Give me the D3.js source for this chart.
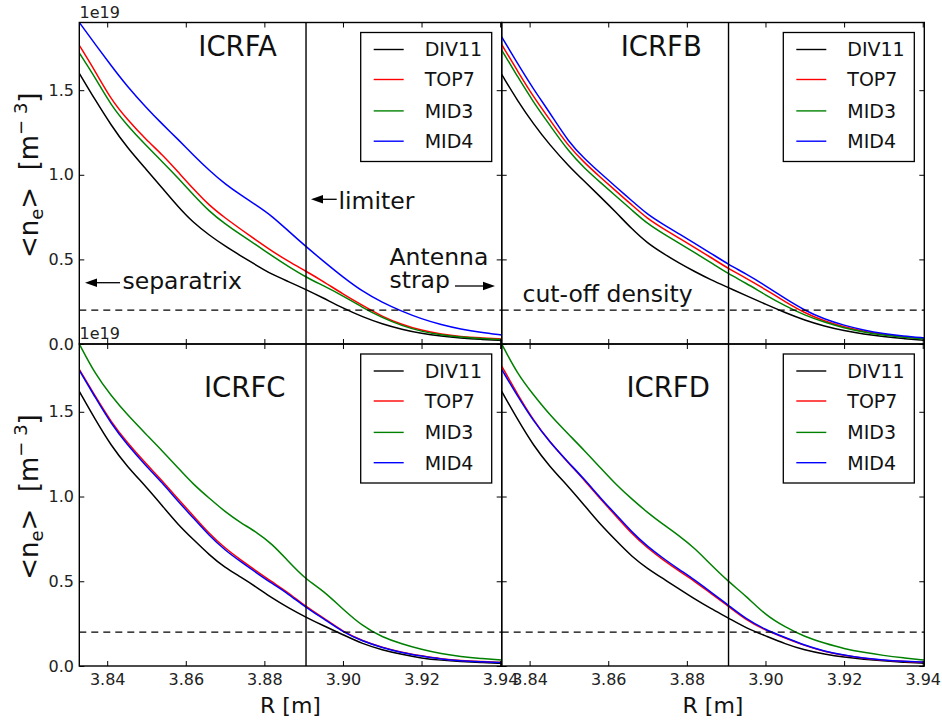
<!DOCTYPE html>
<html><head><meta charset="utf-8">
<script src="https://cdn.jsdelivr.net/npm/d3@7"></script>
<style>body{margin:0;background:#fff}svg{display:block;font-family:"DejaVu Sans",sans-serif}</style>
</head><body><svg id="c" width="942" height="725"></svg>
<script>
// ---------- data ----------
const R = [3.8329,3.837,3.841,3.845,3.85,3.854,3.858,3.862,3.866,3.870,3.874,3.878,3.882,3.886,3.8906,3.895,3.900,3.905,3.910,3.915,3.920,3.925,3.930,3.935,3.9404];
const seriesNames = ["DIV11","TOP7","MID3","MID4"];
const seriesColors = ["#000000","#ff0000","#008000","#0000ff"];
const panelNames = ["ICRFA","ICRFB","ICRFC","ICRFD"];
const xTicks = [3.84,3.86,3.88,3.90,3.92,3.94];
const yTicks = [0,0.5,1.0,1.5];
const limiterR = 3.8906;
const cutoffDensity = 0.2;

const A_DIV11 = [1.60,1.44,1.293,1.163,1.03,0.922,0.812,0.715,0.643,0.578,0.521,0.465,0.41,0.37,0.322,0.272,0.212,0.16,0.118,0.086,0.062,0.046,0.035,0.027,0.021];
const A_TOP7  = [1.765,1.61,1.445,1.33,1.205,1.12,1.018,0.915,0.818,0.745,0.678,0.612,0.548,0.49,0.43,0.37,0.295,0.228,0.162,0.115,0.08,0.058,0.044,0.036,0.03];
const A_MID3  = [1.72,1.572,1.41,1.295,1.17,1.078,0.982,0.88,0.783,0.71,0.645,0.585,0.52,0.46,0.395,0.345,0.285,0.215,0.155,0.108,0.074,0.053,0.04,0.032,0.026];
const A_MID4  = [1.90,1.77,1.645,1.525,1.395,1.30,1.21,1.115,1.025,0.945,0.88,0.82,0.755,0.67,0.575,0.49,0.395,0.31,0.245,0.193,0.148,0.114,0.088,0.068,0.053];

const B_DIV11 = [1.593,1.435,1.30,1.18,1.05,0.96,0.87,0.778,0.68,0.595,0.535,0.478,0.428,0.38,0.333,0.287,0.235,0.185,0.14,0.105,0.078,0.058,0.043,0.032,0.022];
const B_TOP7  = [1.77,1.61,1.46,1.33,1.165,1.07,0.985,0.903,0.822,0.74,0.682,0.626,0.57,0.513,0.445,0.39,0.322,0.25,0.183,0.135,0.10,0.075,0.056,0.043,0.033];
const B_MID3  = [1.737,1.578,1.428,1.298,1.135,1.038,0.955,0.873,0.792,0.71,0.652,0.596,0.54,0.483,0.415,0.36,0.29,0.225,0.17,0.128,0.095,0.07,0.052,0.04,0.03];
const B_MID4  = [1.815,1.655,1.505,1.372,1.19,1.095,1.01,0.928,0.847,0.765,0.707,0.651,0.595,0.538,0.47,0.415,0.345,0.268,0.198,0.147,0.11,0.082,0.061,0.047,0.036];

const C_DIV11 = [1.62,1.452,1.30,1.18,1.055,0.946,0.835,0.745,0.655,0.58,0.525,0.465,0.40,0.345,0.287,0.238,0.185,0.13,0.095,0.068,0.046,0.034,0.026,0.02,0.016];
const C_TOP7  = [1.75,1.59,1.44,1.32,1.19,1.094,0.985,0.885,0.78,0.695,0.625,0.56,0.495,0.435,0.35,0.285,0.203,0.148,0.11,0.08,0.06,0.042,0.031,0.026,0.022];
const C_MID3  = [1.90,1.72,1.595,1.485,1.365,1.27,1.17,1.07,0.99,0.91,0.845,0.79,0.72,0.62,0.51,0.445,0.335,0.235,0.17,0.13,0.097,0.072,0.055,0.044,0.035];
const C_MID4  = [1.745,1.583,1.43,1.308,1.178,1.082,0.972,0.872,0.768,0.683,0.615,0.55,0.486,0.427,0.345,0.28,0.20,0.146,0.108,0.078,0.058,0.04,0.03,0.025,0.02];

const D_DIV11 = [1.62,1.452,1.30,1.18,1.055,0.946,0.835,0.74,0.645,0.575,0.515,0.455,0.395,0.34,0.283,0.225,0.178,0.13,0.093,0.07,0.052,0.04,0.03,0.022,0.016];
const D_TOP7  = [1.77,1.60,1.45,1.325,1.195,1.095,0.985,0.885,0.78,0.695,0.625,0.56,0.50,0.43,0.352,0.273,0.21,0.165,0.12,0.085,0.062,0.045,0.034,0.027,0.022];
const D_MID3  = [1.90,1.72,1.60,1.485,1.365,1.27,1.17,1.07,0.985,0.905,0.835,0.77,0.695,0.60,0.497,0.415,0.30,0.23,0.172,0.135,0.102,0.08,0.062,0.048,0.035];
const D_MID4  = [1.75,1.59,1.445,1.325,1.198,1.10,0.992,0.893,0.79,0.705,0.635,0.57,0.508,0.438,0.358,0.278,0.214,0.168,0.122,0.087,0.064,0.046,0.035,0.028,0.023];

// ---------- layout ----------
const colX = [[79.3,501.7],[501.7,924.3]];
const rowY = [[22.5,344],[344,666]];
const titlePos = [[198.3,55.5],[620.7,55.5],[204,397.3],[626.4,397.3]];
const FONT = "DejaVu Sans";

const panels = [
  {name:panelNames[0], col:0,row:0, data:[A_DIV11,A_TOP7,A_MID3,A_MID4]},
  {name:panelNames[1], col:1,row:0, data:[B_DIV11,B_TOP7,B_MID3,B_MID4]},
  {name:panelNames[2], col:0,row:1, data:[C_DIV11,C_TOP7,C_MID3,C_MID4]},
  {name:panelNames[3], col:1,row:1, data:[D_DIV11,D_TOP7,D_MID3,D_MID4]}
];

const svg = d3.select("#c");
const defs = svg.append("defs");

function styleAxis(g){
  g.attr("font-size",16).attr("font-family",FONT);
  g.select(".domain").remove();
  g.selectAll(".tick line").attr("stroke","#000").attr("stroke-width",1);
  g.selectAll(".tick text").attr("fill","#222");
}

panels.forEach((p,pi)=>{
  const [x0,x1] = colX[p.col], [y0,y1] = rowY[p.row];
  const x = d3.scaleLinear().domain([R[0],R[R.length-1]]).range([x0,x1]);
  const y = d3.scaleLinear().domain([0,1.9]).range([y1,y0]);
  const g = svg.append("g");
  const cid = "clip"+pi;
  defs.append("clipPath").attr("id",cid).append("rect").attr("x",x0).attr("y",y0).attr("width",x1-x0).attr("height",y1-y0);

  const plot = g.append("g").attr("clip-path",`url(#${cid})`);
  const line = d3.line().x((d,i)=>x(R[i])).y(d=>y(d)).curve(d3.curveBasis);
  p.data.forEach((s,si)=>{
    plot.append("path").attr("d",line(s)).attr("fill","none")
      .attr("stroke",seriesColors[si]).attr("stroke-width",1.5);
  });
  // limiter vertical line
  plot.append("line").attr("x1",x(limiterR)).attr("x2",x(limiterR)).attr("y1",y0).attr("y2",y1)
    .attr("stroke","#000").attr("stroke-width",1.4);
  // cut-off density dashed line
  plot.append("line").attr("x1",x0).attr("x2",x1).attr("y1",y(cutoffDensity)).attr("y2",y(cutoffDensity))
    .attr("stroke","#000").attr("stroke-width",1.3).attr("stroke-dasharray","7,5");

  // axes (ticks inside)
  g.append("g").attr("transform",`translate(0,${y1})`)
    .call(d3.axisBottom(x).tickValues(xTicks).tickSizeInner(-5).tickSizeOuter(0).tickPadding(7.6)
      .tickFormat(p.row===1 ? d3.format(".2f") : ()=>"")).call(styleAxis);
  g.append("g").attr("transform",`translate(0,${y0})`)
    .call(d3.axisTop(x).tickValues(xTicks).tickSizeInner(-5).tickSizeOuter(0).tickFormat(()=>"")).call(styleAxis);
  g.append("g").attr("transform",`translate(${x0},0)`)
    .call(d3.axisLeft(y).tickValues(yTicks).tickSizeInner(-5).tickSizeOuter(0).tickPadding(5.3)
      .tickFormat(p.col===0 ? d3.format(".1f") : ()=>"")).call(styleAxis);
  g.append("g").attr("transform",`translate(${x1},0)`)
    .call(d3.axisRight(y).tickValues(yTicks).tickSizeInner(-5).tickSizeOuter(0).tickFormat(()=>"")).call(styleAxis);

  // frame
  g.append("rect").attr("x",x0).attr("y",y0).attr("width",x1-x0).attr("height",y1-y0)
    .attr("fill","none").attr("stroke","#000").attr("stroke-width",1.4);

  // title
  g.append("text").attr("x",titlePos[pi][0]).attr("y",titlePos[pi][1]).attr("font-size",27.5)
    .attr("font-family",FONT).attr("fill","#111").text(p.name);

  // legend
  const lx = x1-141, ly = y0+10;
  const lg = g.append("g").attr("transform",`translate(${lx},${ly})`);
  lg.append("rect").attr("width",131).attr("height",129).attr("fill","#fff").attr("stroke","#000").attr("stroke-width",1.3);
  const rowsY = [17,47,78.4,108.7];
  seriesNames.forEach((n,si)=>{
    lg.append("line").attr("x1",13).attr("x2",43).attr("y1",rowsY[si]).attr("y2",rowsY[si])
      .attr("stroke",seriesColors[si]).attr("stroke-width",1.4);
    lg.append("text").attr("x",64).attr("y",rowsY[si]+6.8).attr("font-size",19)
      .attr("font-family",FONT).attr("fill","#111").text(n);
  });

  // offset text and y label
  if(p.col===0){
    g.append("text").attr("x",79.5).attr("y",y0-5).attr("font-size",16).attr("font-family",FONT)
      .attr("fill","#222").text("1e19");
    const yl = g.append("text").attr("transform",`translate(38,${(y0+y1)/2-8}) rotate(-90)`)
      .attr("text-anchor","middle").attr("font-size",26).attr("font-family",FONT).attr("fill","#111");
    yl.append("tspan").text("<n");
    yl.append("tspan").attr("font-size",18).attr("dy",5).text("e");
    yl.append("tspan").attr("dy",-5).text(">\u00a0\u00a0[m");
    yl.append("tspan").attr("font-size",18).attr("dy",-11).text("\u2212\u00a03");
    yl.append("tspan").attr("dy",11).text("]");
  }
  if(p.row===1){
    g.append("text").attr("x",(x0+x1)/2).attr("y",713).attr("text-anchor","middle")
      .attr("font-size",22).attr("font-family",FONT).attr("fill","#111").text("R [m]");
  }
});

// ---------- annotations ----------
function arrow(x1,y1,x2,y2){ // tail -> tip
  const a = Math.atan2(y2-y1,x2-x1), L=12, W=4.2;
  svg.append("line").attr("x1",x1).attr("y1",y1).attr("x2",x2-Math.cos(a)*L*0.8).attr("y2",y2-Math.sin(a)*L*0.8)
    .attr("stroke","#000").attr("stroke-width",1.3);
  const bx = x2-Math.cos(a)*L, by = y2-Math.sin(a)*L;
  svg.append("path").attr("d",`M${x2},${y2}L${bx-Math.sin(a)*W},${by+Math.cos(a)*W}L${bx+Math.sin(a)*W},${by-Math.cos(a)*W}Z`).attr("fill","#000");
}
const annFont = 23.5;
function ann(x,y,t){ svg.append("text").attr("x",x).attr("y",y).attr("font-size",annFont).attr("font-family",FONT).attr("fill","#111").text(t); }
arrow(120,282.7,85,282.7); ann(122.5,289.3,"separatrix");
arrow(336.7,199.3,311,199.3); ann(338.5,209.3,"limiter");
ann(389.5,265,"Antenna"); ann(389.5,288.3,"strap");
arrow(455,286,495,286);
ann(522.5,301.7,"cut-off density");
</script></body></html>
